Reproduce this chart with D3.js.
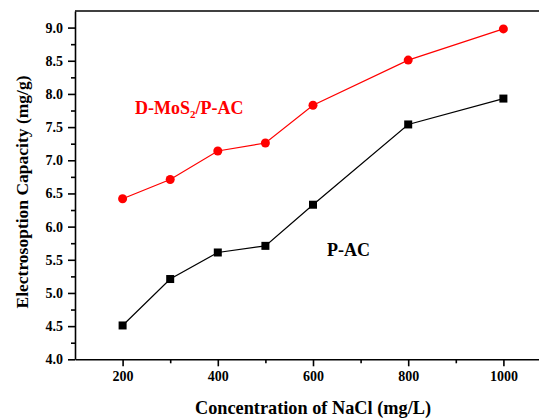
<!DOCTYPE html>
<html>
<head>
<meta charset="utf-8">
<script src="https://cdn.jsdelivr.net/npm/d3@7"></script>
<style>
  body { margin: 0; background: #fff; }
  svg text { font-family: 'Liberation Serif', 'Times New Roman', Times, serif !important; font-weight: bold; }
</style>
</head>
<body>
<div class="chart"></div>
<script>
// values
var concentrations = [200, 300, 400, 500, 600, 800, 1000];
var dMoS2 = [6.42, 6.71, 7.14, 7.26, 7.83, 8.51, 8.98];
var pAC = [4.51, 5.21, 5.61, 5.71, 6.33, 7.54, 7.93];
var xTicks = [200, 400, 600, 800, 1000];
var yTicks = [4.0, 4.5, 5.0, 5.5, 6.0, 6.5, 7.0, 7.5, 8.0, 8.5, 9.0];

var width = 539,
    height = 419;

var x = d3.scaleLinear()
    .domain([100, 1100])
    .range([75, 551]);

var y = d3.scaleLinear()
    .domain([4.0, 9.25])
    .range([359.3, 11]);

var svg = d3.select(".chart")
    .append("svg")
    .attr("width", width)
    .attr("height", height);

// frame top line
svg.append("line")
    .attr("x1", x(100)).attr("x2", width)
    .attr("y1", y(9.25)).attr("y2", y(9.25))
    .attr("stroke", "#000")
    .attr("stroke-width", 1.6);

// minor ticks
var xMinor = d3.range(300, 1100, 200);
var yMinor = d3.range(4.25, 9.25, 0.5);

var xAxis = svg.append("g")
    .attr("transform", "translate(0," + y(4.0) + ")");
xAxis.call(d3.axisBottom(x).tickValues(xTicks).tickFormat(d3.format("d")).tickSize(7).tickPadding(5).tickSizeOuter(0));
xAxis.append("g")
    .call(d3.axisBottom(x).tickValues(xMinor).tickSize(4).tickFormat(""))
    .select(".domain").remove();

var yAxis = svg.append("g")
    .attr("transform", "translate(" + x(100) + ",0)");
yAxis.call(d3.axisLeft(y).tickValues(yTicks).tickFormat(d3.format(".1f")).tickSize(7).tickPadding(5).tickSizeOuter(0));
yAxis.append("g")
    .call(d3.axisLeft(y).tickValues(yMinor).tickSize(4).tickFormat(""))
    .select(".domain").remove();

svg.selectAll(".domain").attr("stroke-width", 1.6).attr("stroke", "#000");
svg.selectAll(".tick line").attr("stroke-width", 1.6).attr("stroke", "#000");
svg.selectAll(".tick text")
    .attr("font-size", 14)
    .attr("fill", "#000");

// axis titles
svg.append("text")
    .attr("x", 313)
    .attr("y", 414)
    .attr("text-anchor", "middle")
    .attr("font-size", 18.3)
    .text("Concentration of NaCl (mg/L)");

svg.append("text")
    .attr("transform", "translate(28,192) rotate(-90)")
    .attr("text-anchor", "middle")
    .attr("font-size", 17.5)
    .text("Electrosoption Capacity (mg/g)");

// series
var series = [
  {values: dMoS2, color: "#ff0000", shape: "circle"},
  {values: pAC, color: "#000000", shape: "square"}
];

var line = d3.line()
    .x(function(d) { return x(d[0]); })
    .y(function(d) { return y(d[1]); });

series.forEach(function(s) {
  var pts = concentrations.map(function(c, i) { return [c, s.values[i]]; });
  svg.append("path")
      .datum(pts)
      .attr("fill", "none")
      .attr("stroke", s.color)
      .attr("stroke-width", 1.2)
      .attr("d", line);
  if (s.shape === "circle") {
    svg.selectAll(null).data(pts).enter().append("circle")
        .attr("cx", function(d) { return x(d[0]); })
        .attr("cy", function(d) { return y(d[1]); })
        .attr("r", 4.5)
        .attr("fill", s.color);
  } else {
    svg.selectAll(null).data(pts).enter().append("rect")
        .attr("x", function(d) { return x(d[0]) - 4; })
        .attr("y", function(d) { return y(d[1]) - 4; })
        .attr("width", 8)
        .attr("height", 8)
        .attr("fill", s.color);
  }
});

// series labels
var lbl = svg.append("text")
    .attr("x", 135)
    .attr("y", 114)
    .attr("font-size", 18)
    .attr("fill", "#ff0000");
lbl.append("tspan").text("D-MoS");
lbl.append("tspan").attr("font-size", 11).attr("dy", 4).text("2");
lbl.append("tspan").attr("dy", -4).text("/P-AC");

svg.append("text")
    .attr("x", 327)
    .attr("y", 256)
    .attr("font-size", 18)
    .attr("fill", "#000")
    .text("P-AC");
</script>
</body>
</html>
